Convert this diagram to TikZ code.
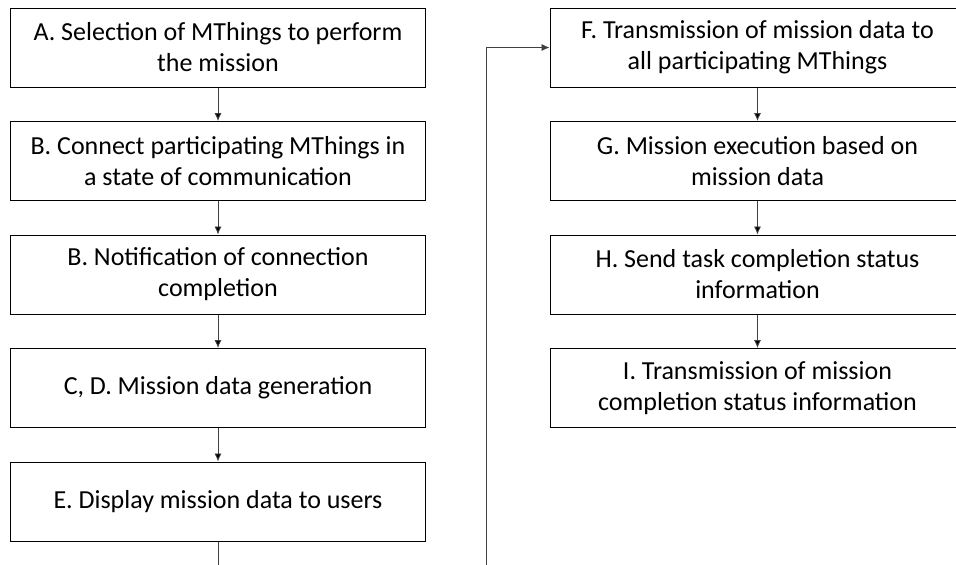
\documentclass[tikz,border=0pt]{standalone}
\usepackage{fontspec}
\setmainfont{Carlito}
\usetikzlibrary{calc, arrows, arrows.meta, positioning}
\tikzstyle{stage}=[draw, rectangle, line width=1pt, minimum width=415pt,
minimum height=79pt, align=center, inner sep=2pt, font=\fontsize{26}{31}\selectfont]
\tikzstyle{link}=[->, line width=0.8pt, draw=black!75]

\begin{document}
\begin{tikzpicture}[node distance=113.5pt,auto,>={Latex[length=8pt,width=7pt]}]
      \useasboundingbox (0,0) rectangle (956pt,-565pt);
      \clip (0,0) rectangle (956pt,-565pt);
      % left column
      \node [stage] (a) at (218pt,-47.5pt) {A. Selection of MThings to perform\\the mission};
      \node [stage] (b) [below of=a] {B. Connect participating MThings in\\a state of communication};
      \node [stage] (c) [below of=b] {B. Notification of connection\\completion};
      \node [stage] (d) [below of=c] {C, D. Mission data generation};
      \node [stage] (e) [below of=d] {E. Display mission data to users};
      % right column
      \node [stage] (f) at (757.5pt,-47.5pt) {F. Transmission of mission data to\\all participating MThings};
      \node [stage] (g) [below of=f] {G. Mission execution based on\\mission data};
      \node [stage] (h) [below of=g] {H. Send task completion status\\information};
      \node [stage] (i) [below of=h] {I. Transmission of mission\\completion status information};
      \coordinate (turn) at ($(f.west)+(-63pt,0)$);
      \path[link] (a) edge (b);
      \path[link] (b) edge (c);
      \path[link] (c) edge (d);
      \path[link] (d) edge (e);
      \path[link] (f) edge (g);
      \path[link] (g) edge (h);
      \path[link] (h) edge (i);
      \draw[link] (e.south) -- ++(0,-40pt) -| (turn) -- (f.west);
  \end{tikzpicture}
\end{document}
